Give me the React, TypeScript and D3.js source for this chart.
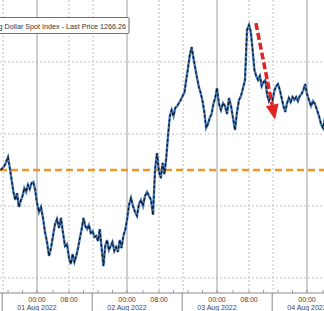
import React from "react";
import * as d3 from "d3";

// ---- data (hours since 01 Aug 2022 00:00, half-hour samples) ----
const startHour = -10;
const stepHours = 0.5;
const prices: number[] = [
  // 31 Jul evening
  1262.5, 1262.64, 1262.78, 1263.06, 1263.4, 1262.64, 1261.81, 1260.97, 1260.42, 1260.9,
  1259.93, 1260.35, 1260.69, 1261.25, 1260.97, 1261.46, 1261.18, 1261.6, 1261.67, 1261.11,
  1260.21,
  // 01 Aug 00:30 - 08:00
  1259.58, 1259.93, 1259.17, 1258.19, 1257.5, 1256.53, 1257.08, 1257.92, 1258.75, 1259.1,
  1258.47, 1259.17, 1258.13, 1257.22, 1257.36, 1256.39,
  // 01 Aug 08:30 - 24:00
  1255.97, 1256.67, 1256.11, 1256.53, 1257.08, 1257.78, 1258.4, 1259.17, 1258.61, 1258.4,
  1258.68, 1258.13, 1258.26, 1257.85, 1257.92, 1257.57, 1258.4, 1257.08, 1255.83, 1257.22,
  1257.64, 1256.94, 1257.22, 1257.5, 1256.88, 1257.15, 1256.81, 1257.64, 1257.08, 1257.92,
  1258.33, 1259.03,
  // 02 Aug 00:30 - 08:00
  1260.07, 1260.56, 1260.0, 1259.58, 1259.31, 1260.14, 1260.42, 1260.0, 1260.69, 1260.97,
  1260.69, 1260.42, 1259.38, 1262.5, 1263.68, 1262.36,
  // 02 Aug 08:30 - 24:00
  1261.94, 1262.99, 1262.22, 1263.33, 1264.93, 1266.25, 1266.67, 1266.25, 1266.81, 1266.94,
  1267.15, 1267.36, 1267.64, 1267.85, 1268.75, 1269.58, 1270.49, 1271.04, 1270.28, 1269.58,
  1268.89, 1268.26, 1267.85, 1267.29, 1266.53, 1265.42, 1265.69, 1266.11, 1266.39, 1267.08,
  1267.5, 1268.19,
  // 03 Aug 00:30 - 08:00
  1267.08, 1266.67, 1267.15, 1266.94, 1266.39, 1267.5, 1266.94, 1266.11, 1265.28, 1266.53,
  1267.36, 1267.64, 1268.19, 1268.75, 1272.22, 1272.57,
  // 03 Aug 08:30 - 24:00
  1272.08, 1270.83, 1269.44, 1269.03, 1268.75, 1269.03, 1268.33, 1268.61, 1268.75, 1267.71,
  1267.29, 1267.64, 1267.36, 1267.99, 1268.33, 1268.47, 1268.06, 1267.5, 1266.94, 1266.53,
  1267.15, 1267.5, 1267.22, 1267.57, 1267.36, 1267.57, 1267.29, 1267.64, 1267.78, 1268.06,
  1268.47, 1267.78,
  // 04 Aug
  1267.36, 1266.94, 1267.29, 1267.08, 1266.67, 1266.25, 1265.69, 1265.42, 1266.11,
];

const dayHours = [0, 24, 48, 72];
const dayLabels = ["01 Aug 2022", "02 Aug 2022", "03 Aug 2022", "04 Aug 2022"];
const morningHours = [8, 32, 56];
const sessionBreakHours = [-9.6, 14.4, 38.4, 62.4];
const minorTickHours = d3.range(-8, 80, 4);
const priceGrid = [1255, 1260, 1265, 1270];
const refLevel = 1262.5;
const legendText = "Bloomberg Dollar Spot Index - Last Price 1266.26";
const arrowFrom = { h: 57.9, p: 1272.7 };
const arrowTo = { h: 63.2, p: 1266.0 };

// ---- layout ----
const W = 324;
const H = 311;
const axisY = 293;
const dayX0 = 37;
const dayW = 90;
const morningW = 32;

export default function App() {
  const knotsH: number[] = [];
  const knotsX: number[] = [];
  for (let d = -1; d <= 3; d++) {
    knotsH.push(24 * d, 24 * d + 8);
    knotsX.push(dayX0 + dayW * d, dayX0 + dayW * d + morningW);
  }
  const x = d3.scaleLinear().domain(knotsH).range(knotsX);
  const y = d3.scaleLinear().domain([1255, 1270]).range([278, 62]);

  const pts = prices.map((p, i) => ({ h: startHour + i * stepHours, p }));
  const line = d3
    .line<{ h: number; p: number }>()
    .x((d) => x(d.h))
    .y((d) => y(d.p));
  const path = line(pts) || "";

  const ax1 = x(arrowFrom.h), ay1 = y(arrowFrom.p);
  const ax2 = x(arrowTo.h), ay2 = y(arrowTo.p);
  const ang = Math.atan2(ay2 - ay1, ax2 - ax1);
  const headLen = 15, headW = 6.5;
  const bx = ax2 - headLen * Math.cos(ang), by = ay2 - headLen * Math.sin(ang);
  const nx = -Math.sin(ang), ny = Math.cos(ang);
  const head = `M${ax2},${ay2}L${bx + nx * headW},${by + ny * headW}L${bx - nx * headW},${by - ny * headW}Z`;

  const font = "'Liberation Sans', Arial, sans-serif";

  return (
    <svg
      width={W}
      height={H}
      style={{ position: "absolute", left: 0, top: 0, background: "#fff" }}
      fontFamily={font}
    >
      <rect x={0} y={0} width={W} height={H} fill="#fff" />
      {/* horizontal grid */}
      {priceGrid.map((p) => (
        <line key={p} x1={0} x2={W} y1={y(p)} y2={y(p)} stroke="#b4b4b4" strokeWidth={0.8} strokeDasharray="2,2" />
      ))}
      {/* vertical grid */}
      {dayHours.map((h) => (
        <line key={"d" + h} x1={x(h)} x2={x(h)} y1={0} y2={axisY} stroke="#9e9e9e" strokeWidth={1} />
      ))}
      {morningHours.map((h) => (
        <line key={"m" + h} x1={x(h)} x2={x(h)} y1={0} y2={axisY} stroke="#b4b4b4" strokeWidth={0.8} strokeDasharray="2,2" />
      ))}
      {sessionBreakHours.map((h) => (
        <line key={"s" + h} x1={x(h) + 1} x2={x(h) + 1} y1={0} y2={axisY} stroke="#b4b4b4" strokeWidth={0.8} strokeDasharray="2,2" />
      ))}
      {/* reference level */}
      <line x1={0} x2={W} y1={y(refLevel)} y2={y(refLevel)} stroke="#f0962a" strokeWidth={2.6} strokeDasharray="7,4" />
      {/* price line */}
      <path d={path} fill="none" stroke="#4a7fc0" strokeWidth={2.4} strokeLinejoin="miter" />
      <path d={path} fill="none" stroke="#10161f" strokeWidth={1.3} strokeDasharray="3,2" strokeLinejoin="miter" />
      {/* red arrow */}
      <line x1={ax1} y1={ay1} x2={bx} y2={by} stroke="#e02424" strokeWidth={3.5} strokeDasharray="7,3" />
      <path d={head} fill="#e02424" />
      {/* legend */}
      <rect x={-220} y={17.5} width={349} height={16} fill="#fff" stroke="#707070" strokeWidth={1} rx={1} />
      <text x={126} y={29} textAnchor="end" fontSize={7.2} fill="#333">
        {legendText}
      </text>
      {/* x axis */}
      <line x1={0} x2={W} y1={axisY} y2={axisY} stroke="#8a8a8a" strokeWidth={1} />
      {minorTickHours.map((h) => (
        <line key={"t" + h} x1={x(h)} x2={x(h)} y1={axisY - 3} y2={axisY} stroke="#8a8a8a" strokeWidth={0.8} />
      ))}
      {sessionBreakHours.map((h) => (
        <line key={"b" + h} x1={x(h)} x2={x(h)} y1={axisY} y2={H} stroke="#8a8a8a" strokeWidth={1} />
      ))}
      {dayHours.map((h, i) => (
        <g key={"l" + h}>
          <text x={x(h)} y={301.5} textAnchor="middle" fontSize={7} fill="#444">00:00</text>
          <text x={x(h)} y={309.5} textAnchor="middle" fontSize={7} fill="#444">{dayLabels[i]}</text>
        </g>
      ))}
      {morningHours.map((h) => (
        <text key={"ml" + h} x={x(h)} y={301.5} textAnchor="middle" fontSize={7} fill="#444">08:00</text>
      ))}
    </svg>
  );
}
